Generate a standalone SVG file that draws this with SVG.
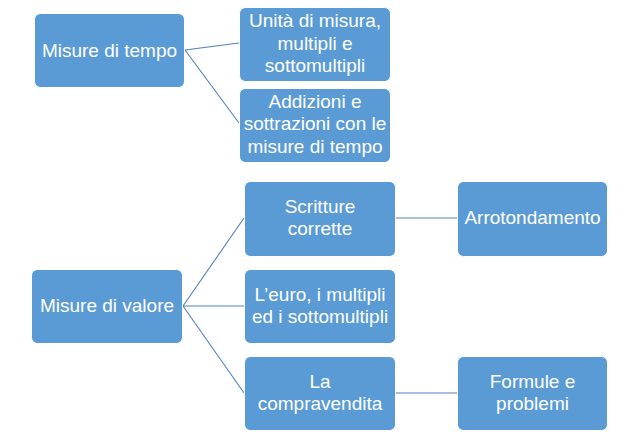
<svg xmlns="http://www.w3.org/2000/svg" width="639" height="432" viewBox="0 0 639 432">
<style>
.box{fill:#5B9BD5;stroke:#ffffff;stroke-width:1}
.t{font-family:"Liberation Sans",Arial,sans-serif;font-size:19px;fill:#ffffff;text-anchor:middle}
.c{stroke:#4F81BD;stroke-width:1.1;fill:none}
</style>
<rect width="639" height="432" fill="#ffffff"/>
<g id="connectors">
<line class="c" x1="185" y1="50" x2="239" y2="43"/>
<line class="c" x1="185" y1="50" x2="239" y2="123"/>
<line class="c" x1="183" y1="306" x2="244" y2="218"/>
<line class="c" x1="183" y1="306" x2="244" y2="306"/>
<line class="c" x1="183" y1="306" x2="244" y2="393"/>
<line class="c" x1="395" y1="218" x2="457" y2="218"/>
<line class="c" x1="395" y1="393" x2="457" y2="393"/>
</g>
<g id="misure-tempo">
<rect class="box" x="34.5" y="13.5" width="150" height="74" rx="6"/>
<text class="t" x="109.5" y="57">Misure di tempo</text>
</g>
<g id="unita">
<rect class="box" x="239.5" y="7.5" width="151" height="74" rx="6"/>
<text class="t" x="315" y="27">Unità di misura,</text>
<text class="t" x="315" y="49.5">multipli e</text>
<text class="t" x="315" y="72">sottomultipli</text>
</g>
<g id="addizioni">
<rect class="box" x="239.5" y="88.5" width="151" height="74" rx="6"/>
<text class="t" x="315" y="107.5">Addizioni e</text>
<text class="t" x="315" y="130">sottrazioni con le</text>
<text class="t" x="315" y="152.5">misure di tempo</text>
</g>
<g id="misure-valore">
<rect class="box" x="31.5" y="269.5" width="151" height="74" rx="6"/>
<text class="t" x="107" y="312">Misure di valore</text>
</g>
<g id="scritture">
<rect class="box" x="244.5" y="181.5" width="151" height="75" rx="6"/>
<text class="t" x="320" y="213">Scritture</text>
<text class="t" x="320" y="235">corrette</text>
</g>
<g id="euro">
<rect class="box" x="244.5" y="269.5" width="151" height="74" rx="6"/>
<text class="t" x="320" y="301">L’euro, i multipli</text>
<text class="t" x="320" y="323">ed i sottomultipli</text>
</g>
<g id="compravendita">
<rect class="box" x="244.5" y="356.5" width="151" height="74" rx="6"/>
<text class="t" x="320" y="388">La</text>
<text class="t" x="320" y="410">compravendita</text>
</g>
<g id="arrotondamento">
<rect class="box" x="457.5" y="181.5" width="150" height="75" rx="6"/>
<text class="t" x="532.5" y="224">Arrotondamento</text>
</g>
<g id="formule">
<rect class="box" x="457.5" y="356.5" width="150" height="74" rx="6"/>
<text class="t" x="532.5" y="388">Formule e</text>
<text class="t" x="532.5" y="410">problemi</text>
</g>
</svg>
